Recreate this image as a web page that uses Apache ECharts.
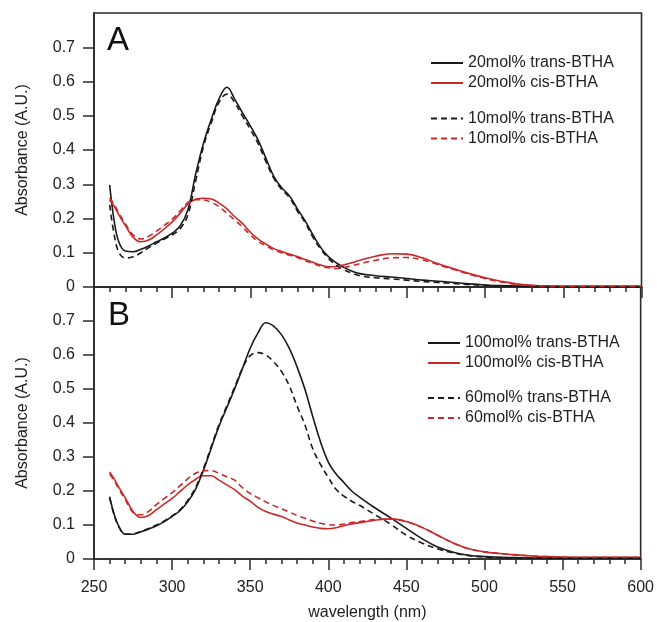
<!DOCTYPE html>
<html>
    <head>
        <meta charset="UTF-8">
        <style>
            body { margin: 0; background: #fff; }
        </style>
    </head>
    <body>
        <div id="chart" style="width: 657px;height:622px;"></div>
        <script src="https://cdn.jsdelivr.net/npm/echarts@6/dist/echarts.min.js"></script>
        <script type="text/javascript">
            // wavelength (nm)
            var wl = [260, 263, 266, 270, 275, 280, 285, 290, 295, 300, 305, 310, 315, 320, 325, 330, 335, 340, 345, 350,
                355, 360, 365, 370, 375, 380, 385, 390, 395, 400, 405, 410, 415, 420, 430, 440, 450, 460, 470, 480,
                490, 500, 510, 520, 530, 540, 560, 580, 600];

            // panel A
            var trans20 = [0.298, 0.19, 0.13, 0.105, 0.103, 0.11, 0.12, 0.132, 0.143, 0.157, 0.178, 0.225, 0.33, 0.42, 0.49, 0.55, 0.583, 0.548, 0.508, 0.47,
                0.428, 0.375, 0.322, 0.29, 0.266, 0.228, 0.193, 0.152, 0.115, 0.088, 0.07, 0.057, 0.046, 0.039, 0.033, 0.029, 0.025, 0.02, 0.017, 0.013,
                0.009, 0.006, 0.004, 0.003, 0.002, 0.002, 0.001, 0.001, 0.001];
            var cis20 = [0.255, 0.235, 0.21, 0.18, 0.145, 0.132, 0.137, 0.152, 0.17, 0.19, 0.215, 0.242, 0.256, 0.259, 0.257, 0.245, 0.228, 0.205, 0.185, 0.16,
                0.14, 0.125, 0.112, 0.104, 0.096, 0.089, 0.08, 0.072, 0.064, 0.059, 0.06, 0.065, 0.071, 0.078, 0.09, 0.097, 0.096, 0.085, 0.068, 0.053,
                0.039, 0.027, 0.017, 0.009, 0.005, 0.003, 0.002, 0.002, 0.002];
            var trans10 = [0.24, 0.15, 0.1, 0.085, 0.088, 0.1, 0.115, 0.128, 0.14, 0.152, 0.17, 0.21, 0.31, 0.41, 0.48, 0.54, 0.563, 0.538, 0.498, 0.46,
                0.418, 0.365, 0.317, 0.285, 0.261, 0.222, 0.188, 0.145, 0.11, 0.083, 0.063, 0.05, 0.04, 0.033, 0.027, 0.024, 0.02, 0.016, 0.013, 0.01,
                0.007, 0.005, 0.003, 0.002, 0.001, 0.001, 0.001, 0.001, 0.001];
            var cis10 = [0.26, 0.24, 0.215, 0.185, 0.152, 0.14, 0.148, 0.163, 0.18, 0.198, 0.222, 0.247, 0.255, 0.254, 0.247, 0.234, 0.215, 0.195, 0.175, 0.152,
                0.133, 0.12, 0.108, 0.1, 0.093, 0.086, 0.077, 0.069, 0.061, 0.056, 0.054, 0.057, 0.062, 0.068, 0.078, 0.085, 0.086, 0.079, 0.065, 0.051,
                0.037, 0.025, 0.015, 0.008, 0.004, 0.003, 0.002, 0.002, 0.002];

            // panel B
            var trans100 = [0.183, 0.13, 0.095, 0.073, 0.073, 0.08, 0.088, 0.098, 0.11, 0.125, 0.142, 0.168, 0.205, 0.26, 0.325, 0.39, 0.445, 0.5, 0.56, 0.62,
                0.665, 0.695, 0.685, 0.66, 0.62, 0.565, 0.5, 0.42, 0.345, 0.285, 0.25, 0.225, 0.2, 0.182, 0.15, 0.121, 0.09, 0.06, 0.035, 0.02,
                0.011, 0.007, 0.005, 0.004, 0.003, 0.003, 0.003, 0.003, 0.003];
            var cis100 = [0.256, 0.235, 0.21, 0.18, 0.14, 0.122, 0.128, 0.145, 0.162, 0.178, 0.198, 0.218, 0.234, 0.245, 0.245, 0.232, 0.218, 0.204, 0.185, 0.17,
                0.152, 0.14, 0.132, 0.125, 0.115, 0.106, 0.1, 0.094, 0.09, 0.089, 0.092, 0.098, 0.103, 0.107, 0.114, 0.118, 0.11, 0.093, 0.07, 0.047,
                0.03, 0.021, 0.016, 0.012, 0.009, 0.007, 0.005, 0.005, 0.005];
            var trans60 = [0.18, 0.128, 0.094, 0.073, 0.074, 0.081, 0.09, 0.1, 0.112, 0.127, 0.145, 0.172, 0.21, 0.265, 0.33, 0.395, 0.45, 0.505, 0.56, 0.598,
                0.607, 0.6, 0.58, 0.552, 0.51, 0.45, 0.395, 0.325, 0.278, 0.24, 0.205, 0.185, 0.17, 0.158, 0.13, 0.102, 0.07, 0.047, 0.03, 0.018,
                0.01, 0.006, 0.004, 0.003, 0.003, 0.003, 0.003, 0.003, 0.003];
            var cis60 = [0.25, 0.23, 0.205, 0.175, 0.137, 0.13, 0.14, 0.16, 0.178, 0.195, 0.215, 0.236, 0.252, 0.26, 0.26, 0.252, 0.242, 0.232, 0.21, 0.193,
                0.18, 0.168, 0.157, 0.148, 0.138, 0.128, 0.12, 0.112, 0.105, 0.101, 0.1, 0.103, 0.107, 0.11, 0.116, 0.118, 0.11, 0.093, 0.07, 0.047,
                0.03, 0.021, 0.016, 0.012, 0.009, 0.007, 0.005, 0.005, 0.005];

            var yTicks = [0, 0.1, 0.2, 0.3, 0.4, 0.5, 0.6, 0.7];

            var font = 'Liberation Sans, Arial, sans-serif';
            var axisColor = '#2b2b2b';
            var black = '#1a1a1a';
            var red = '#c8282a';

            function pairs(ys) {
                var out = [];
                for (let i = 0; i < wl.length; i++) {
                    out.push([wl[i], ys[i]]);
                }
                return out;
            }

            function line(name, idx, ys, color, dashed) {
                return {
                    name: name,
                    type: 'line',
                    xAxisIndex: idx,
                    yAxisIndex: idx,
                    data: pairs(ys),
                    smooth: 0.4,
                    symbol: 'none',
                    lineStyle: {color: color, width: 1.6, type: dashed ? [6, 4] : 'solid'},
                    itemStyle: {color: color}
                };
            }

            function xAxis(idx, labels) {
                return {
                    type: 'value',
                    gridIndex: idx,
                    min: 250,
                    max: 600,
                    interval: 50,
                    axisLine: {lineStyle: {color: axisColor, width: 1.6}},
                    axisTick: {length: 11, lineStyle: {color: axisColor, width: 1.5}},
                    minorTick: {show: true, splitNumber: 5, length: 5, lineStyle: {color: axisColor, width: 1.5}},
                    axisLabel: {show: labels, margin: 21, fontSize: 16, color: '#222', fontFamily: font},
                    splitLine: {show: false},
                    name: labels ? 'wavelength (nm)' : '',
                    nameLocation: 'middle',
                    nameGap: 46,
                    nameTextStyle: {fontSize: 16, color: '#222', fontFamily: font}
                };
            }

            function yAxis(idx) {
                return {
                    type: 'value',
                    gridIndex: idx,
                    min: 0,
                    max: 0.8,
                    interval: 0.1,
                    axisLine: {show: true, lineStyle: {color: axisColor, width: 1.6}},
                    axisTick: {show: true, length: 11, customValues: yTicks, lineStyle: {color: axisColor, width: 1.5}},
                    axisLabel: {margin: 19, fontSize: 16, color: '#222', fontFamily: font, customValues: yTicks},
                    splitLine: {show: false},
                    name: 'Absorbance (A.U.)',
                    nameLocation: 'middle',
                    nameGap: 63,
                    nameTextStyle: {fontSize: 16, color: '#222', fontFamily: font}
                };
            }

            function legend(names, left, top) {
                return {
                    data: names,
                    orient: 'vertical',
                    left: left,
                    top: top,
                    padding: 0,
                    itemWidth: 32,
                    itemHeight: 12,
                    itemGap: 1,
                    selectedMode: false,
                    itemStyle: {opacity: 0},
                    textStyle: {fontSize: 16, lineHeight: 19, color: '#222', fontFamily: font}
                };
            }

            var chart = echarts.init(document.getElementById('chart'));
            chart.setOption({
                animation: false,
                grid: [
                    {left: 94, right: 15.5, top: 13, height: 274, show: true, borderColor: axisColor, borderWidth: 1.6},
                    {left: 94, right: 15.5, top: 287, height: 274, show: true, borderColor: axisColor, borderWidth: 1.6}
                ],
                xAxis: [xAxis(0, false), xAxis(1, true)],
                yAxis: [yAxis(0), yAxis(1)],
                legend: [
                    legend(['20mol% trans-BTHA', '20mol% cis-BTHA'], 430, 53.5),
                    legend(['10mol% trans-BTHA', '10mol% cis-BTHA'], 430, 109),
                    legend(['100mol% trans-BTHA', '100mol% cis-BTHA'], 427, 333.5),
                    legend(['60mol% trans-BTHA', '60mol% cis-BTHA'], 427, 388.5)
                ],
                graphic: [
                    {type: 'text', left: 107, top: 24, style: {text: 'A', fontSize: 33, fill: '#111', fontFamily: font}},
                    {type: 'text', left: 108, top: 299, style: {text: 'B', fontSize: 33, fill: '#111', fontFamily: font}}
                ],
                series: [
                    line('20mol% trans-BTHA', 0, trans20, black, false),
                    line('20mol% cis-BTHA', 0, cis20, red, false),
                    line('10mol% trans-BTHA', 0, trans10, black, true),
                    line('10mol% cis-BTHA', 0, cis10, red, true),
                    line('100mol% trans-BTHA', 1, trans100, black, false),
                    line('100mol% cis-BTHA', 1, cis100, red, false),
                    line('60mol% trans-BTHA', 1, trans60, black, true),
                    line('60mol% cis-BTHA', 1, cis60, red, true)
                ]
            });
        </script>
    </body>
</html>
